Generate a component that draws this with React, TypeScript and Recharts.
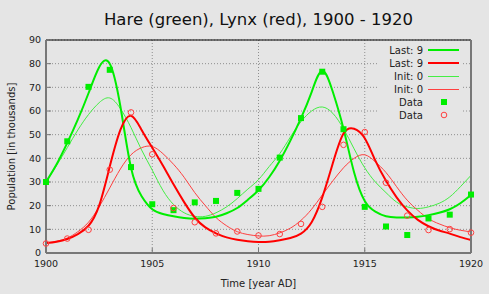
import { ComposedChart, Line, Scatter, XAxis, YAxis, CartesianGrid } from 'recharts'

// observed data, Hudson Bay Company records (thousands)
const years = [
  1900, 1901, 1902, 1903, 1904, 1905, 1906, 1907, 1908, 1909, 1910,
  1911, 1912, 1913, 1914, 1915, 1916, 1917, 1918, 1919, 1920,
]
const hareObs = [
  30, 47.2, 70.2, 77.4, 36.3, 20.6, 18.1, 21.4, 22, 25.4, 27.1,
  40.3, 57, 76.6, 52.3, 19.5, 11.2, 7.6, 14.6, 16.2, 24.7,
]
const lynxObs = [
  4, 6.1, 9.8, 35.2, 59.4, 41.7, 19, 13, 8.3, 9.1, 7.4,
  8, 12.3, 19.5, 45.7, 51.1, 29.7, 15.8, 9.7, 10.1, 8.6,
]

// model curves, every half year
const fitTimes = [
  1900, 1900.5, 1901, 1901.5, 1902, 1902.5, 1903, 1903.5, 1904, 1904.5,
  1905, 1905.5, 1906, 1906.5, 1907, 1907.5, 1908, 1908.5, 1909, 1909.5,
  1910, 1910.5, 1911, 1911.5, 1912, 1912.5, 1913, 1913.5, 1914, 1914.5,
  1915, 1915.5, 1916, 1916.5, 1917, 1917.5, 1918, 1918.5, 1919, 1919.5,
  1920,
]
const hareLast = [
  30, 37.5, 46.5, 56.5, 67.5, 78.5, 80, 62, 36, 24,
  18.5, 16.5, 15.5, 14.8, 14.5, 14.7, 15.3, 16.8, 19, 22.5,
  26.5, 32, 39, 47.5, 57, 68, 77, 68, 52.5, 34,
  22, 17.5, 15.5, 15, 15, 15.3, 16, 17, 18.5, 21,
  24.5,
]
const lynxLast = [
  4.2, 4.8, 5.9, 8, 11.5, 20, 36.5, 52, 58, 52,
  44.5, 37, 29, 21.5, 15, 10.8, 8.3, 6.6, 5.6, 5,
  4.7, 4.8, 5.4, 6.3, 8.2, 13, 23.5, 38, 50.5, 52.5,
  48.5, 39, 30.5, 23.5, 18, 14, 11.3, 9.5, 8.2, 6.7,
  5.5,
]
const hareInit = [
  30, 37, 44.5, 52, 58.5, 63.5, 65.5, 61, 53, 43.5,
  35, 26.5, 20.5, 17, 15.5, 15.5, 17, 19.5, 23, 27,
  31, 36.5, 42, 49, 55.5, 60, 61.7, 59, 52.5, 44,
  36, 30, 25.5, 21.5, 19.5, 18.8, 19.5, 21, 23.7, 28,
  32.8,
]
const lynxInit = [
  4.2, 5, 6.3, 9, 13, 19.5, 27.5, 35.5, 41.5, 44.5,
  45, 42, 37.5, 32, 25.5, 20, 15, 11.5, 9, 7.8,
  7.2, 7.3, 8.5, 10.5, 13.8, 18.5, 24.5, 30.5, 36, 40,
  41.5, 38.5, 34, 28, 22.3, 18, 14.5, 12.3, 10.7, 9.6,
  8.9,
]

const xTicks = [1900, 1905, 1910, 1915, 1920]
const yTicks = [0, 10, 20, 30, 40, 50, 60, 70, 80, 90]

const legendRows = [
  { label: 'Last:  9', kind: 'line', color: '#00ee00', width: 2 },
  { label: 'Last:  9', kind: 'line', color: '#ff0000', width: 2 },
  { label: 'Init:  0', kind: 'line', color: '#44ee44', width: 1 },
  { label: 'Init:  0', kind: 'line', color: '#ff4040', width: 1 },
  { label: 'Data', kind: 'square', color: '#00ee00', width: 0 },
  { label: 'Data', kind: 'circle', color: '#ff4040', width: 0 },
]

const BG = '#e5e5e5'
const AXIS = '#777777'

const toPoints = (ts: number[], vs: number[]) => ts.map((t, i) => ({ t, v: vs[i] }))

const hareFitLast = toPoints(fitTimes, hareLast)
const lynxFitLast = toPoints(fitTimes, lynxLast)
const hareFitInit = toPoints(fitTimes, hareInit)
const lynxFitInit = toPoints(fitTimes, lynxInit)
const harePoints = toPoints(years, hareObs)
const lynxPoints = toPoints(years, lynxObs)

const GreenSquare = (p: any) => (
  <rect x={p.cx - 3} y={p.cy - 3} width={6} height={6} fill="#00ee00" />
)
const RedCircle = (p: any) => (
  <circle cx={p.cx} cy={p.cy} r={2.8} fill="none" stroke="#ff4040" strokeWidth={1} />
)

function LegendBox() {
  return (
    <svg
      width={489}
      height={294}
      style={{ position: 'absolute', left: 0, top: 0, pointerEvents: 'none' }}
    >
      <rect x={377} y={43} width={86} height={80} fill={BG} />
      {legendRows.map((row, i) => {
        const cy = 50 + i * 13
        // 1px lines sit on a half pixel so they stay crisp
        const ly = row.width === 1 ? cy + 0.5 : cy
        return (
          <g key={i}>
            <text x={423} y={cy + 3.5} textAnchor="end" fontSize={10} fill="#222">
              {row.label}
            </text>
            {row.kind === 'line' && (
              <line x1={428} x2={459} y1={ly} y2={ly} stroke={row.color} strokeWidth={row.width} />
            )}
            {row.kind === 'square' && (
              <rect x={441} y={cy - 3} width={6} height={6} fill={row.color} />
            )}
            {row.kind === 'circle' && (
              <circle cx={444} cy={cy} r={2.8} fill="none" stroke={row.color} strokeWidth={1} />
            )}
          </g>
        )
      })}
    </svg>
  )
}

export default function App() {
  return (
    <div
      style={{
        position: 'absolute',
        left: 0,
        top: 0,
        width: 489,
        height: 294,
        background: BG,
        fontFamily: '"DejaVu Sans", sans-serif',
      }}
    >
      <div
        style={{
          position: 'absolute',
          left: 46,
          top: 10,
          width: 425,
          textAlign: 'center',
          fontSize: 16.5,
          lineHeight: 'normal',
          color: '#111',
        }}
      >
        Hare (green), Lynx (red), 1900 - 1920
      </div>
      <ComposedChart
        width={489}
        height={294}
        margin={{ top: 39, right: 17, bottom: 0, left: 0 }}
      >
        <CartesianGrid stroke="#8f8f8f" strokeDasharray="1 2" />
        <XAxis
          dataKey="t"
          type="number"
          domain={[1900, 1920]}
          ticks={xTicks}
          height={41}
          axisLine={{ stroke: AXIS, strokeWidth: 2 }}
          tickLine={{ stroke: AXIS }}
          tickSize={-5}
          tickMargin={12}
          tick={{ fontSize: 9.5, fill: '#222' }}
          label={{ value: 'Time [year AD]', position: 'insideBottom', offset: 7, fontSize: 10, fill: '#222' }}
        />
        <XAxis
          xAxisId="top"
          orientation="top"
          dataKey="t"
          type="number"
          domain={[1900, 1920]}
          ticks={xTicks}
          height={1}
          axisLine={{ stroke: '#000' }}
          tickLine={{ stroke: '#000' }}
          tickSize={-5}
          tick={false}
        />
        <YAxis
          type="number"
          domain={[0, 90]}
          ticks={yTicks}
          width={46}
          axisLine={{ stroke: AXIS, strokeWidth: 2 }}
          tickLine={{ stroke: AXIS }}
          tickSize={-5}
          tickMargin={10}
          tick={{ fontSize: 9.5, fill: '#222' }}
          label={{ value: 'Population [in thousands]', angle: -90, position: 'center', dx: -12, fontSize: 10, fill: '#222' }}
        />
        <YAxis
          yAxisId="right"
          orientation="right"
          type="number"
          domain={[0, 90]}
          ticks={yTicks}
          width={1}
          axisLine={{ stroke: AXIS, strokeWidth: 2 }}
          tickLine={{ stroke: AXIS }}
          tickSize={-5}
          tick={false}
        />
        <Line data={hareFitInit} dataKey="v" type="natural" stroke="#44ee44" strokeWidth={1} dot={false} isAnimationActive={false} />
        <Line data={lynxFitInit} dataKey="v" type="natural" stroke="#ff4040" strokeWidth={1} dot={false} isAnimationActive={false} />
        <Line data={hareFitLast} dataKey="v" type="natural" stroke="#00ee00" strokeWidth={2} dot={false} isAnimationActive={false} />
        <Line data={lynxFitLast} dataKey="v" type="natural" stroke="#ff0000" strokeWidth={2} dot={false} isAnimationActive={false} />
        <Scatter data={harePoints} dataKey="v" shape={GreenSquare} isAnimationActive={false} />
        <Scatter data={lynxPoints} dataKey="v" shape={RedCircle} isAnimationActive={false} />
      </ComposedChart>
      <LegendBox />
    </div>
  )
}
